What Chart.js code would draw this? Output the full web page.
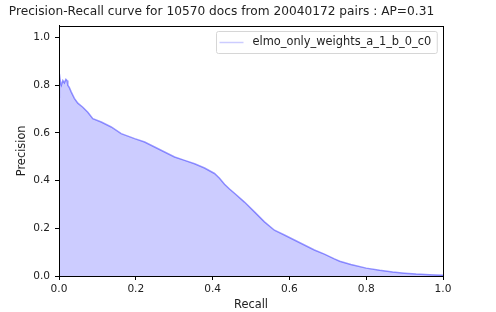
<!DOCTYPE html>
<html>
<head>
<meta charset="utf-8">
<script src="https://cdn.jsdelivr.net/npm/chart.js@4.4.6/dist/chart.umd.min.js"></script>
<style>
  html, body { margin: 0; padding: 0; background: #fff; }
  #wrap { width: 496px; height: 312px; }
</style>
</head>
<body>
<div id="wrap"><canvas id="c" width="496" height="312"></canvas></div>
<script>
// ---------------------------------------------------------------------------
// Precision-Recall curve (filled)
// ---------------------------------------------------------------------------
const TITLE = 'Precision-Recall curve for 10570 docs from 20040172 pairs : AP=0.31'
const SERIES_LABEL = 'elmo_only_weights_a_1_b_0_c0'
const X_LABEL = 'Recall'
const Y_LABEL = 'Precision'

const recall = [
  0, 0.001, 0.004, 0.006, 0.010, 0.014, 0.018, 0.021, 0.023, 0.027,
  0.032, 0.040, 0.049, 0.062, 0.075, 0.088, 0.110, 0.136, 0.162, 0.197,
  0.223, 0.249, 0.275, 0.301, 0.327, 0.353, 0.379, 0.405, 0.418, 0.431,
  0.444, 0.457, 0.483, 0.509, 0.535, 0.561, 0.587, 0.613, 0.639, 0.665,
  0.691, 0.717, 0.731, 0.760, 0.800, 0.835, 0.869, 0.900, 0.930, 0.965, 1.0
]
const precision = [
  0.750, 0.848, 0.810, 0.800, 0.820, 0.810, 0.825, 0.820, 0.800, 0.790,
  0.771, 0.745, 0.725, 0.708, 0.687, 0.660, 0.646, 0.625, 0.597, 0.576,
  0.562, 0.541, 0.520, 0.499, 0.485, 0.471, 0.453, 0.430, 0.410, 0.385,
  0.365, 0.347, 0.310, 0.269, 0.227, 0.192, 0.172, 0.151, 0.130, 0.109,
  0.092, 0.072, 0.062, 0.048, 0.033, 0.024, 0.017, 0.012, 0.008, 0.005, 0.003
]

const xTicks = [0, 0.2, 0.4, 0.6, 0.8, 1.0]
const yTicks = [0, 0.2, 0.4, 0.6, 0.8, 1.0]

const FONT = 'DejaVu Sans'
const TEXT = '#222'
Chart.defaults.font.family = FONT

// frame (top/right spines) + legend box inside the axes, matplotlib style
const framePlugin = {
  id: 'frame',
  afterDraw (chart) {
    const { ctx, chartArea: a } = chart
    const l = Math.round(a.left) + 0.5
    const t = Math.round(a.top) + 0.5
    const r = Math.round(a.right) + 0.5
    const b = Math.round(a.bottom) + 0.5
    ctx.save()
    ctx.strokeStyle = '#000'
    ctx.lineWidth = 1
    ctx.strokeRect(l, t, r - l, b - t)

    // legend
    ctx.font = '11.4px "' + FONT + '"'
    const tw = ctx.measureText(SERIES_LABEL).width
    const boxW = 3 + 24 + 9 + tw + 6
    const boxH = 22
    const bx = Math.round(a.right - 6 - boxW) + 0.5
    const by = Math.round(a.top + 5) + 0.5
    ctx.fillStyle = 'rgba(255,255,255,0.8)'
    ctx.strokeStyle = '#d6d6d6'
    ctx.beginPath()
    ctx.roundRect(bx, by, boxW, boxH, 2)
    ctx.fill()
    ctx.stroke()
    const cy = by + boxH / 2
    ctx.strokeStyle = 'rgba(0,0,255,0.2)'
    ctx.lineWidth = 1.5
    ctx.beginPath()
    ctx.moveTo(bx + 3, cy)
    ctx.lineTo(bx + 27, cy)
    ctx.stroke()
    ctx.fillStyle = TEXT
    ctx.textBaseline = 'middle'
    ctx.textAlign = 'left'
    ctx.fillText(SERIES_LABEL, bx + 36, cy)
    ctx.restore()
  }
}

new Chart(document.getElementById('c'), {
  type: 'line',
  data: {
    datasets: [{
      label: SERIES_LABEL,
      data: recall.map((r, i) => ({ x: r, y: precision[i] })),
      borderColor: 'rgba(0,0,255,0.4)',
      backgroundColor: 'rgba(0,0,255,0.2)',
      borderWidth: 1.5,
      fill: 'origin',
      tension: 0,
      pointRadius: 0
    }]
  },
  options: {
    responsive: false,
    animation: false,
    layout: { padding: { left: 0, right: 53, top: 0, bottom: 0 } },
    plugins: {
      legend: { display: false },
      tooltip: { enabled: false },
      title: {
        display: true,
        text: TITLE,
        color: TEXT,
        font: { size: 12.2, weight: 'normal' },
        padding: { top: 5, bottom: 6 }
      }
    },
    scales: {
      x: {
        type: 'linear',
        min: 0,
        max: 1,
        afterBuildTicks: s => { s.ticks = xTicks.map(v => ({ value: v })) },
        afterFit: s => { s.height = 36 },
        ticks: { color: TEXT, font: { size: 10.6 }, padding: 3, maxRotation: 0, callback: v => v.toFixed(1) },
        grid: { drawOnChartArea: false, drawTicks: true, tickLength: 4, color: '#000' },
        border: { display: true, color: '#000' },
        title: { display: true, text: X_LABEL, color: TEXT, font: { size: 11.4 }, padding: { top: 0, bottom: 0 } }
      },
      y: {
        type: 'linear',
        min: 0,
        max: 1.05,
        afterBuildTicks: s => { s.ticks = yTicks.map(v => ({ value: v })) },
        afterFit: s => { s.width = 59 },
        ticks: { color: TEXT, font: { size: 10.6 }, padding: 5, callback: v => v.toFixed(1) },
        grid: { drawOnChartArea: false, drawTicks: true, tickLength: 4, color: '#000' },
        border: { display: true, color: '#000' },
        title: { display: true, text: Y_LABEL, color: TEXT, font: { size: 11.4 }, padding: { top: 15, bottom: 0 } }
      }
    }
  },
  plugins: [framePlugin]
})
</script>
</body>
</html>
